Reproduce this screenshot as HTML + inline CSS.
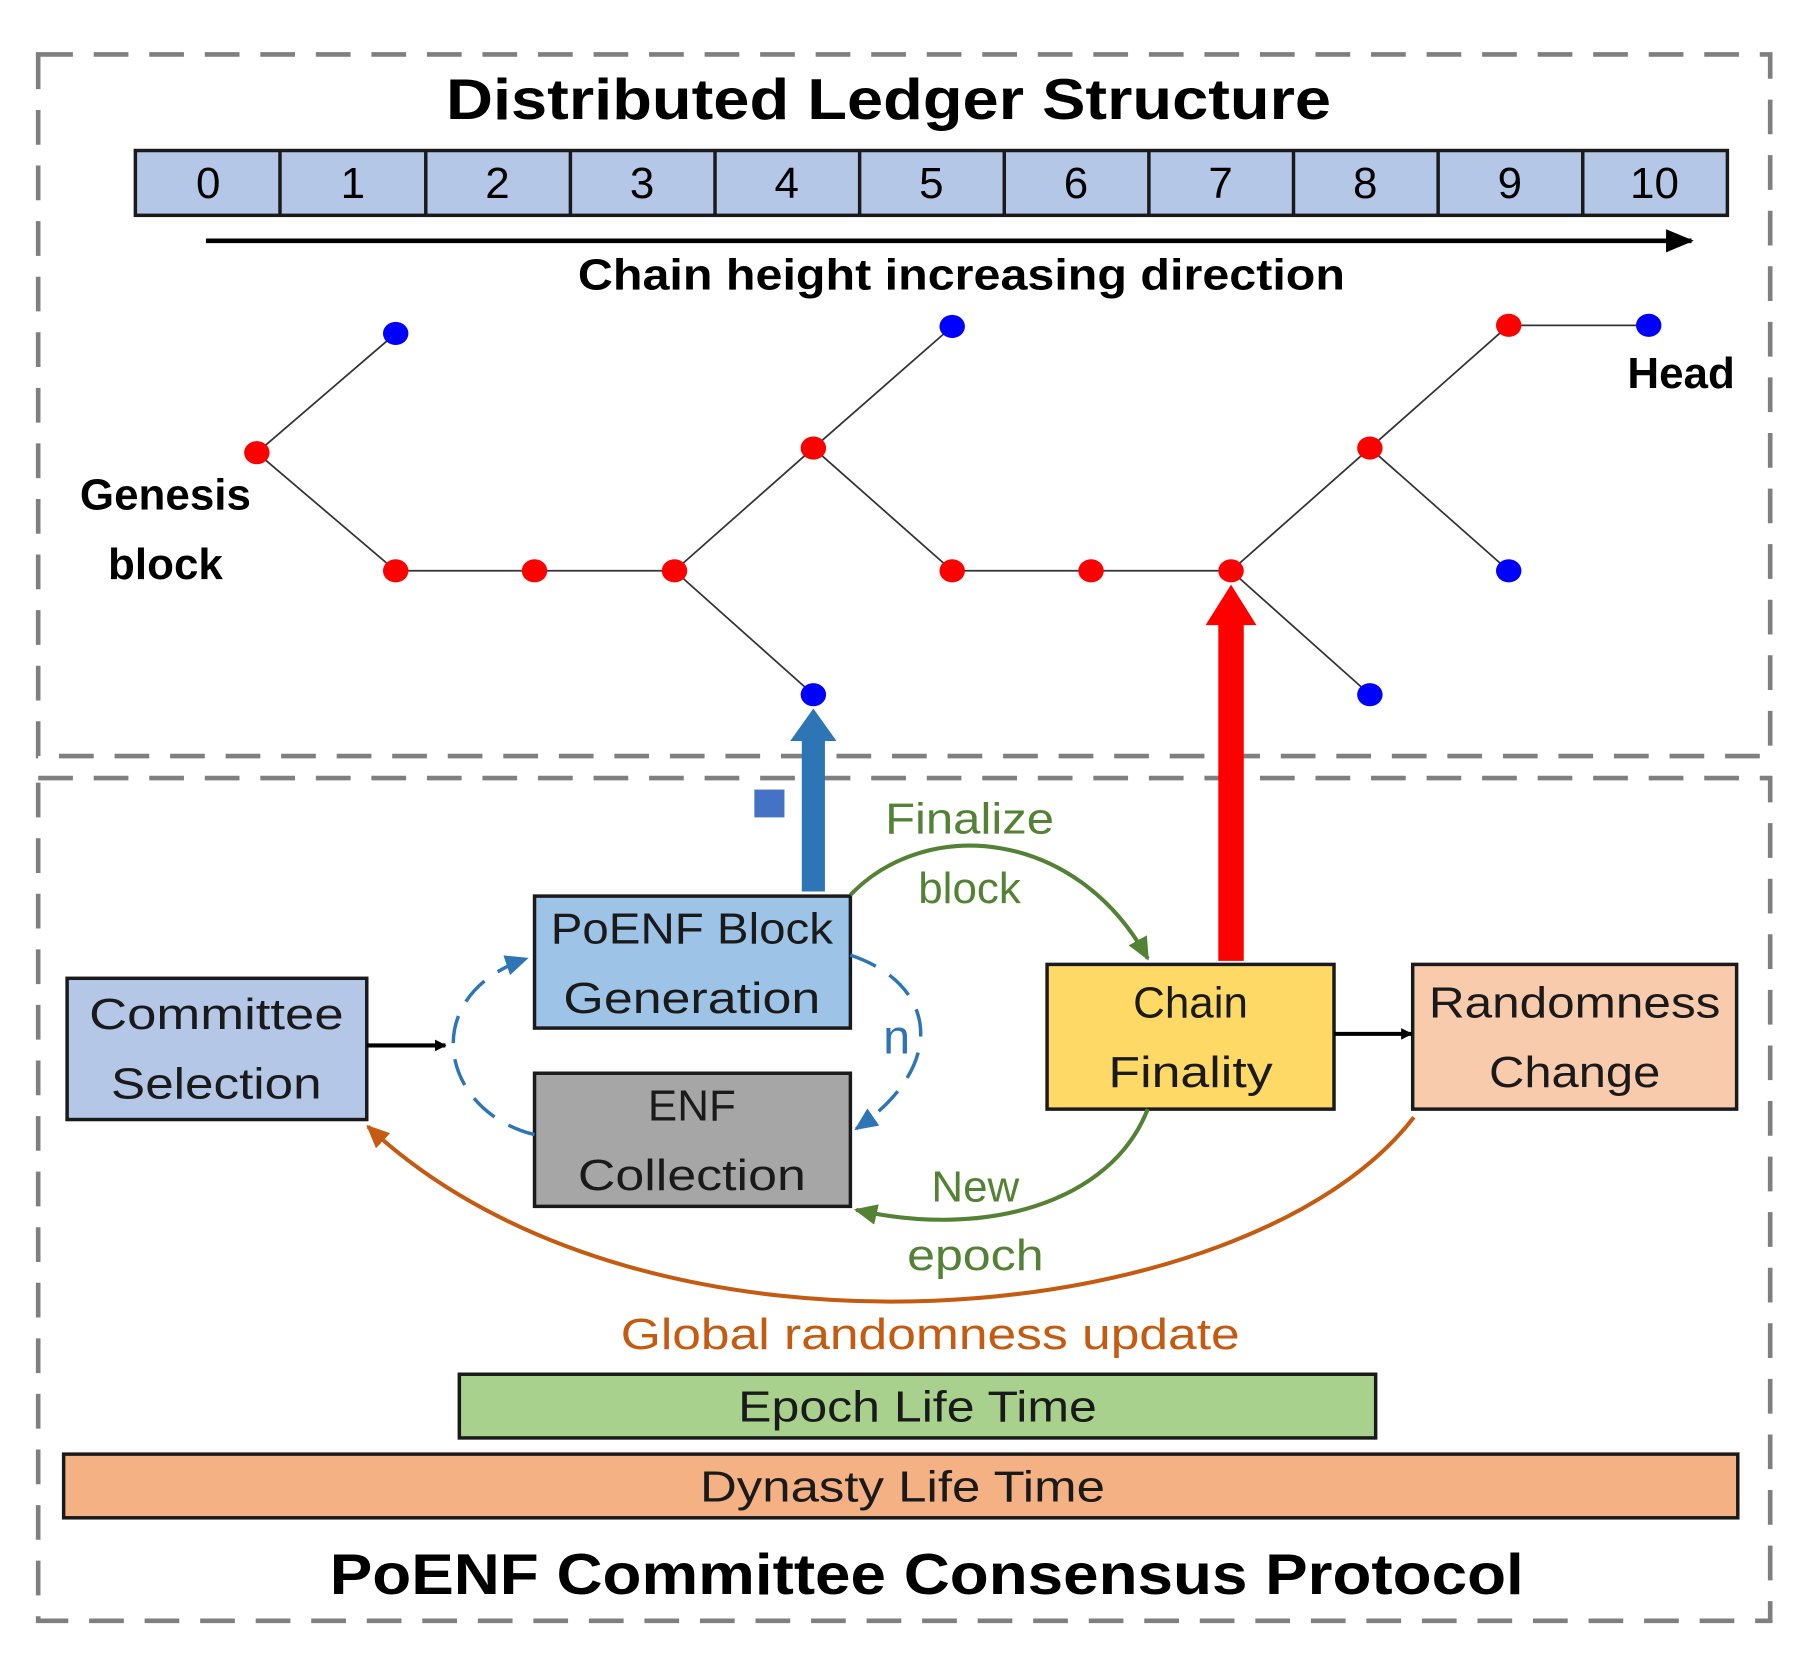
<!DOCTYPE html>
<html><head><meta charset="utf-8"><style>
html,body{margin:0;padding:0;background:#fff;}
svg{display:block;}
text{font-family:"Liberation Sans",sans-serif;}
</style></head><body>
<svg width="1813" height="1666" viewBox="0 0 1567 1439" preserveAspectRatio="none" xmlns="http://www.w3.org/2000/svg">
<defs>
<marker id="ak" markerWidth="10" markerHeight="10" refX="9" refY="5" orient="auto" markerUnits="userSpaceOnUse"><path d="M0,0 L10,5 L0,10z" fill="#000"/></marker>
<marker id="ak2" markerWidth="24" markerHeight="20" refX="22" refY="10" orient="auto" markerUnits="userSpaceOnUse"><path d="M0,0 L24,10 L0,20z" fill="#000"/></marker>
<marker id="ag" markerWidth="20" markerHeight="18" refX="18" refY="9" orient="auto" markerUnits="userSpaceOnUse"><path d="M0,0 L20,9 L0,18z" fill="#548235"/></marker>
<marker id="ab" markerWidth="20" markerHeight="18" refX="18" refY="9" orient="auto" markerUnits="userSpaceOnUse"><path d="M0,0 L20,9 L0,18z" fill="#2e75b6"/></marker>
<marker id="ao" markerWidth="20" markerHeight="18" refX="18" refY="9" orient="auto" markerUnits="userSpaceOnUse"><path d="M0,0 L20,9 L0,18z" fill="#c55a11"/></marker>
</defs>
<g fill="none" stroke="#7f7f7f" stroke-width="4" stroke-dasharray="30,18">
<rect x="33" y="47" width="1497" height="606"/>
<rect x="33" y="672" width="1497" height="728"/>
</g>
<text x="768" y="103" font-size="50" font-weight="bold" text-anchor="middle" textLength="765" lengthAdjust="spacingAndGlyphs">Distributed Ledger Structure</text>
<g stroke="#1a1a1a" stroke-width="3" fill="#b4c7e7">
<rect x="117" y="130" width="1376" height="56"/>
</g>
<g stroke="#1a1a1a" stroke-width="3">
<line x1="242" y1="130" x2="242" y2="186"/><line x1="368" y1="130" x2="368" y2="186"/><line x1="493" y1="130" x2="493" y2="186"/><line x1="618" y1="130" x2="618" y2="186"/><line x1="743" y1="130" x2="743" y2="186"/><line x1="868" y1="130" x2="868" y2="186"/><line x1="993" y1="130" x2="993" y2="186"/><line x1="1118" y1="130" x2="1118" y2="186"/><line x1="1243" y1="130" x2="1243" y2="186"/><line x1="1368" y1="130" x2="1368" y2="186"/>
</g>
<g font-size="38" text-anchor="middle">
<text x="180" y="171">0</text><text x="305" y="171">1</text><text x="430" y="171">2</text><text x="555" y="171">3</text><text x="680" y="171">4</text><text x="805" y="171">5</text><text x="930" y="171">6</text><text x="1055" y="171">7</text><text x="1180" y="171">8</text><text x="1305" y="171">9</text><text x="1430" y="171">10</text>
</g>
<line x1="178" y1="208" x2="1462" y2="208" stroke="#000" stroke-width="4" marker-end="url(#ak2)"/>
<text x="831" y="250" font-size="38" font-weight="bold" text-anchor="middle" textLength="663" lengthAdjust="spacingAndGlyphs">Chain height increasing direction</text>
<g stroke="#333" stroke-width="1.5">
<line x1="222" y1="391" x2="342" y2="288"/><line x1="222" y1="391" x2="342" y2="493"/>
<line x1="342" y1="493" x2="583" y2="493"/>
<line x1="583" y1="493" x2="703" y2="387"/><line x1="583" y1="493" x2="703" y2="600"/>
<line x1="703" y1="387" x2="823" y2="282"/><line x1="703" y1="387" x2="823" y2="493"/>
<line x1="823" y1="493" x2="1064" y2="493"/>
<line x1="1064" y1="493" x2="1184" y2="387"/><line x1="1064" y1="493" x2="1184" y2="600"/>
<line x1="1184" y1="387" x2="1304" y2="281"/><line x1="1184" y1="387" x2="1304" y2="493"/>
<line x1="1304" y1="281" x2="1425" y2="281"/>
</g>
<g fill="#ff0000">
<ellipse cx="222" cy="391" rx="11" ry="10"/><ellipse cx="342" cy="493" rx="11" ry="10"/><ellipse cx="462" cy="493" rx="11" ry="10"/><ellipse cx="583" cy="493" rx="11" ry="10"/><ellipse cx="703" cy="387" rx="11" ry="10"/><ellipse cx="823" cy="493" rx="11" ry="10"/><ellipse cx="943" cy="493" rx="11" ry="10"/><ellipse cx="1064" cy="493" rx="11" ry="10"/><ellipse cx="1184" cy="387" rx="11" ry="10"/><ellipse cx="1304" cy="281" rx="11" ry="10"/>
</g>
<g fill="#0000ff">
<ellipse cx="342" cy="288" rx="11" ry="10"/><ellipse cx="703" cy="600" rx="11" ry="10"/><ellipse cx="823" cy="282" rx="11" ry="10"/><ellipse cx="1184" cy="600" rx="11" ry="10"/><ellipse cx="1425" cy="281" rx="11" ry="10"/><ellipse cx="1304" cy="493" rx="11" ry="10"/>
</g>
<g font-size="38" font-weight="bold" text-anchor="middle">
<text x="143" y="440">Genesis</text><text x="143" y="500">block</text><text x="1453" y="335">Head</text>
</g>
<path d="M693,770 L693,640 L683,640 L703,612 L723,640 L713,640 L713,770z" fill="#2e75b6"/>
<rect x="652" y="682" width="26" height="24" fill="#4472c4"/>
<path d="M1053,830 L1053,540 L1042,540 L1064,505 L1086,540 L1075,540 L1075,830z" fill="#ff0000"/>
<g stroke="#1a1a1a" stroke-width="3">
<rect x="462" y="774" width="273" height="114" fill="#9dc3e6"/>
<rect x="462" y="927" width="273" height="115" fill="#a6a6a6"/>
<rect x="58" y="845" width="259" height="122" fill="#b4c7e7"/>
<rect x="905" y="833" width="248" height="125" fill="#ffd966"/>
<rect x="1221" y="833" width="280" height="125" fill="#f8cbad"/>
<rect x="397" y="1187" width="792" height="55" fill="#a9d18e"/>
<rect x="55" y="1256" width="1447" height="55" fill="#f4b183"/>
</g>
<g font-size="38" text-anchor="middle" fill="#1a1a1a" lengthAdjust="spacingAndGlyphs">
<text x="598" y="815" textLength="244" lengthAdjust="spacingAndGlyphs">PoENF Block</text><text x="598" y="875" textLength="222" lengthAdjust="spacingAndGlyphs">Generation</text>
<text x="598" y="968">ENF</text><text x="598" y="1028" textLength="197" lengthAdjust="spacingAndGlyphs">Collection</text>
<text x="187" y="889" textLength="220" lengthAdjust="spacingAndGlyphs">Committee</text><text x="187" y="949" textLength="182" lengthAdjust="spacingAndGlyphs">Selection</text>
<text x="1029" y="879">Chain</text><text x="1029" y="939" textLength="142" lengthAdjust="spacingAndGlyphs">Finality</text>
<text x="1361" y="879" textLength="252" lengthAdjust="spacingAndGlyphs">Randomness</text><text x="1361" y="939" textLength="148" lengthAdjust="spacingAndGlyphs">Change</text>
<text x="793" y="1228" textLength="310" lengthAdjust="spacingAndGlyphs">Epoch Life Time</text>
<text x="780" y="1297" textLength="350" lengthAdjust="spacingAndGlyphs">Dynasty Life Time</text>
</g>
<line x1="317" y1="903" x2="385" y2="903" stroke="#000" stroke-width="3.5" marker-end="url(#ak)"/>
<line x1="1153" y1="893" x2="1220" y2="893" stroke="#000" stroke-width="3.5" marker-end="url(#ak)"/>
<g fill="none" stroke="#2e75b6" stroke-width="3" stroke-dasharray="24,14">
<path d="M462,980 C380,960 360,860 455,828" marker-end="url(#ab)"/>
<path d="M735,825 C810,850 820,920 740,975" marker-end="url(#ab)"/>
</g>
<text x="775" y="910" font-size="42" fill="#2e75b6" text-anchor="middle">n</text>
<path d="M735,773 C800,705 930,715 992,828" fill="none" stroke="#548235" stroke-width="3.5" marker-end="url(#ag)"/>
<path d="M992,958 C960,1040 850,1070 740,1045" fill="none" stroke="#548235" stroke-width="3.5" marker-end="url(#ag)"/>
<g font-size="38" fill="#548235" text-anchor="middle">
<text x="838" y="720" textLength="146" lengthAdjust="spacingAndGlyphs">Finalize</text><text x="838" y="780">block</text>
<text x="843" y="1038">New</text><text x="843" y="1097" textLength="118" lengthAdjust="spacingAndGlyphs">epoch</text>
</g>
<path d="M1222,965 C1080,1150 560,1200 318,973" fill="none" stroke="#c55a11" stroke-width="3.5" marker-end="url(#ao)"/>
<text x="804" y="1165" font-size="38" fill="#c55a11" text-anchor="middle" textLength="535" lengthAdjust="spacingAndGlyphs">Global randomness update</text>
<text x="801" y="1377" font-size="50" font-weight="bold" text-anchor="middle" textLength="1032" lengthAdjust="spacingAndGlyphs">PoENF Committee Consensus Protocol</text>
</svg>
</body></html>
